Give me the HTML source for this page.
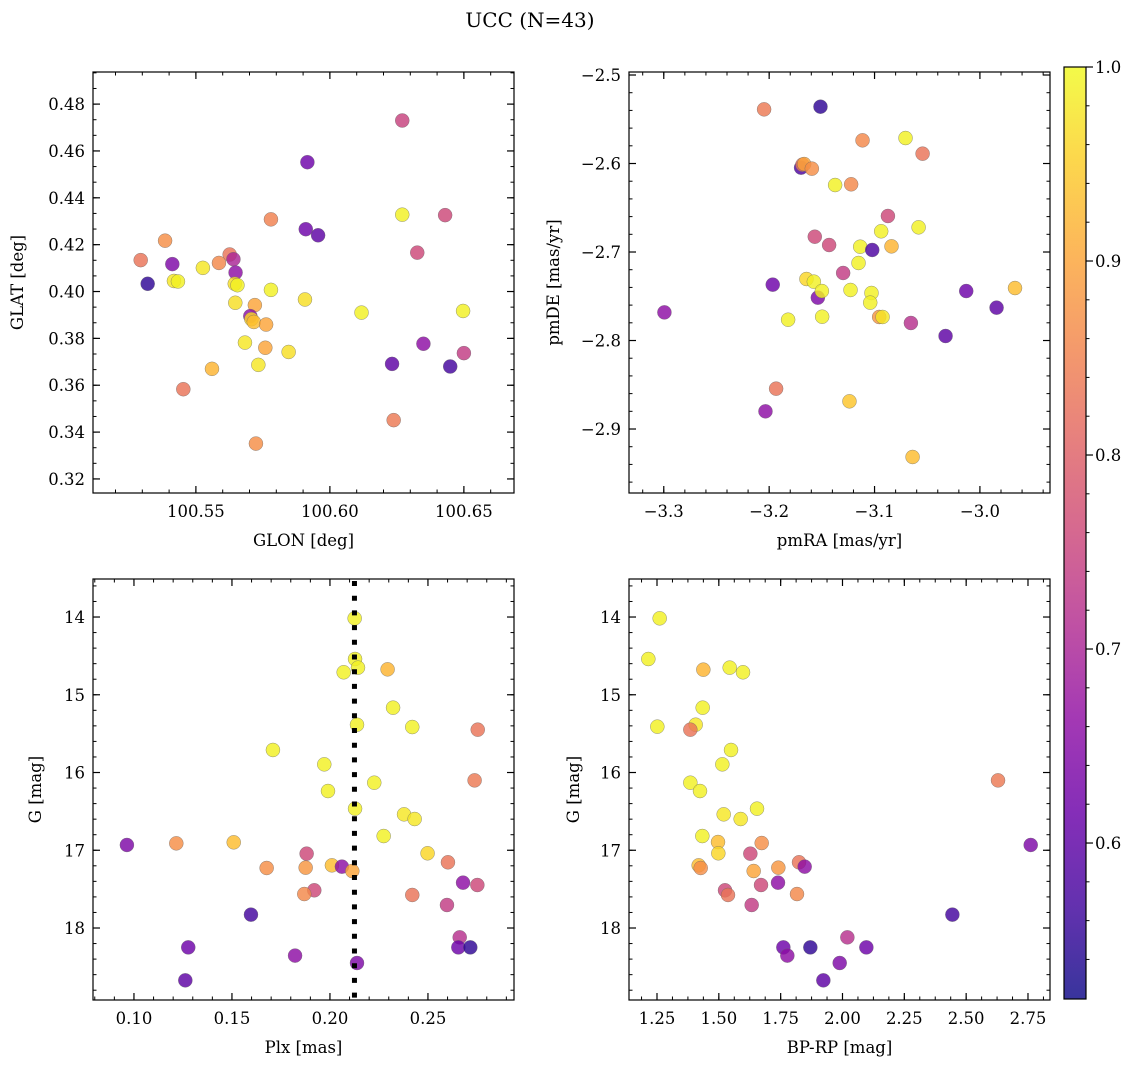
<!DOCTYPE html>
<html><head><meta charset="utf-8"><style>
html,body{margin:0;padding:0;background:#fff;}
svg{display:block;}
text{font-family:"DejaVu Serif","Liberation Serif",serif;fill:#000;}
</style></head><body>
<svg id="fig" width="1136" height="1067" viewBox="0 0 1136 1067" xmlns="http://www.w3.org/2000/svg">
<text x="530" y="27" font-size="20" text-anchor="middle">UCC (N=43)</text>
</svg>
<script>
// ---- Panel 1: GLON vs GLAT ----
const glon1 = [100.627,100.5916,100.627,100.643,100.578,100.591,100.5956,100.5385,100.6326,100.5294,100.5626,100.564,100.5412,100.5586,100.5526,100.5648,100.532,100.5418,100.5433,100.5645,100.5655,100.578,100.5647,100.5907,100.572,100.6118,100.6497,100.5703,100.5707,100.5716,100.5762,100.5683,100.5759,100.5846,100.6349,100.65,100.6232,100.6449,100.5733,100.556,100.5453,100.6238,100.5724];
const glat1 = [0.473,0.4552,0.4328,0.4326,0.4308,0.4266,0.424,0.4217,0.4166,0.4134,0.4158,0.4138,0.4117,0.4122,0.4101,0.4081,0.4033,0.4045,0.4043,0.4033,0.4027,0.4007,0.3952,0.3966,0.3942,0.391,0.3917,0.3895,0.3882,0.387,0.3859,0.3782,0.376,0.3742,0.3777,0.3737,0.3691,0.368,0.3687,0.367,0.3583,0.3451,0.3351];
const prob1 = [0.75,0.62,0.99,0.76,0.85,0.62,0.6,0.87,0.76,0.83,0.83,0.7,0.64,0.86,0.98,0.66,0.55,0.98,0.99,0.97,0.99,0.99,0.97,0.97,0.9,0.99,0.99,0.66,0.96,0.93,0.9,0.98,0.9,0.97,0.66,0.74,0.6,0.57,0.98,0.92,0.83,0.84,0.87];
// ---- Panel 2: pmRA vs pmDE ----
const pmra2 = [-3.2048,-3.1513,-3.1114,-3.0706,-3.0544,-3.1697,-3.1684,-3.1668,-3.1595,-3.1374,-3.1222,-3.0873,-3.0582,-3.0937,-3.1567,-3.1431,-3.1136,-3.1022,-3.0839,-3.1152,-3.1298,-3.1966,-3.1646,-3.1576,-3.1538,-3.15,-3.1228,-3.1029,-3.1041,-3.013,-2.9667,-2.9842,-3.2994,-3.182,-3.1497,-3.0956,-3.0924,-3.0655,-3.0326,-3.1934,-3.2035,-3.1238,-3.0639];
const pmde2 = [-2.5388,-2.5358,-2.5738,-2.5712,-2.5889,-2.6047,-2.6013,-2.6006,-2.6058,-2.6243,-2.6235,-2.6593,-2.6721,-2.6766,-2.6827,-2.6921,-2.694,-2.6977,-2.6936,-2.7124,-2.7237,-2.7369,-2.7305,-2.7335,-2.7516,-2.7441,-2.7429,-2.7463,-2.7572,-2.7441,-2.7407,-2.7629,-2.7682,-2.7765,-2.7731,-2.7734,-2.7734,-2.7802,-2.7949,-2.8544,-2.88,-2.8687,-2.9316];
const prob2 = [0.84,0.55,0.86,0.99,0.83,0.58,0.83,0.9,0.87,0.99,0.86,0.76,0.99,0.99,0.76,0.76,0.99,0.58,0.92,0.99,0.74,0.62,0.96,0.99,0.64,0.99,0.99,0.99,0.99,0.62,0.93,0.6,0.66,0.99,0.99,0.88,0.98,0.72,0.6,0.83,0.66,0.94,0.93];
// ---- Panel 3: Plx vs G ----
const plx3 = [0.2126,0.2128,0.2143,0.207,0.2294,0.2322,0.2138,0.242,0.2754,0.1709,0.1971,0.2738,0.2226,0.199,0.2128,0.2378,0.2432,0.2274,0.0964,0.1216,0.1509,0.2498,0.1881,0.2602,0.1677,0.1876,0.201,0.2061,0.2114,0.2679,0.2752,0.192,0.1869,0.242,0.2597,0.1597,0.2662,0.1277,0.2655,0.2716,0.1822,0.2138,0.1262];
const gmag3 = [14.017,14.54,14.651,14.711,14.673,15.166,15.385,15.415,15.449,15.71,15.895,16.101,16.131,16.238,16.465,16.538,16.598,16.817,16.932,16.911,16.898,17.039,17.044,17.155,17.228,17.224,17.194,17.211,17.267,17.417,17.447,17.515,17.563,17.575,17.704,17.828,18.12,18.249,18.249,18.249,18.355,18.45,18.673];
const prob3 = [0.99,0.99,0.99,0.99,0.92,0.99,0.99,0.99,0.83,0.99,0.99,0.84,0.99,0.99,0.99,0.98,0.98,0.99,0.64,0.87,0.93,0.96,0.76,0.83,0.87,0.88,0.93,0.66,0.9,0.66,0.76,0.76,0.86,0.83,0.74,0.57,0.72,0.62,0.62,0.55,0.66,0.64,0.6];
const plxLine = [0.2125];
// ---- Panel 4: BP-RP vs G ----
const bprp4 = [1.2608,1.215,1.4374,1.5439,1.5978,1.4347,1.2514,1.4064,1.3848,1.5493,1.5142,2.6289,1.3848,1.4239,1.6544,1.5196,1.5883,1.4333,2.761,1.4967,1.6733,1.498,1.6274,1.8242,1.8471,1.4185,1.4266,1.7406,1.6409,1.7393,1.6706,1.525,1.5371,1.8161,1.6328,2.4443,2.0197,1.7609,1.87,2.0965,1.9887,1.777,1.9226];
const gmag4 = [14.017,14.54,14.677,14.651,14.711,15.166,15.41,15.385,15.449,15.71,15.895,16.101,16.131,16.238,16.465,16.538,16.598,16.817,16.932,16.894,16.907,17.039,17.044,17.155,17.211,17.194,17.228,17.224,17.267,17.417,17.447,17.515,17.575,17.563,17.704,17.828,18.12,18.249,18.249,18.249,18.45,18.355,18.673];
const prob4 = [0.99,0.99,0.92,0.99,0.99,0.99,0.99,0.98,0.83,0.99,0.99,0.84,0.99,0.99,0.99,0.98,0.98,0.99,0.64,0.93,0.87,0.96,0.76,0.83,0.66,0.93,0.87,0.88,0.9,0.66,0.76,0.76,0.83,0.86,0.74,0.57,0.72,0.62,0.55,0.62,0.64,0.66,0.6];
// ---- tick labels ----
const ticks1x = [100.55,100.60,100.65], ticks1y = [0.32,0.34,0.36,0.38,0.40,0.42,0.44,0.46,0.48];
const ticks2x = [-3.3,-3.2,-3.1,-3.0], ticks2y = [-2.9,-2.8,-2.7,-2.6,-2.5];
const ticks3x = [0.10,0.15,0.20,0.25], ticksGy = [14,15,16,17,18];
const ticks4x = [1.25,1.50,1.75,2.00,2.25,2.50,2.75];
const cbarTicks = [0.6,0.7,0.8,0.9,1.0];
const cmin = 0.5196, cmax = 1.0;

const NS = "http://www.w3.org/2000/svg";
const svg = document.getElementById('fig');
const FS = 16.5;
function mk(tag, attrs, parent){ const e=document.createElementNS(NS,tag); for(const k in attrs) e.setAttribute(k,attrs[k]); (parent||svg).appendChild(e); return e; }
const plasma = [[13,8,135],[65,4,157],[106,0,168],[143,13,164],[177,42,144],[204,71,120],[225,100,98],[242,132,75],[252,166,54],[252,206,37],[240,249,33]];
function cmap(v){ let t=(v-cmin)/(cmax-cmin); t=Math.max(0,Math.min(1,t)); const f=t*10; const i=Math.min(9,Math.floor(f)); const r=f-i; const a=plasma[i], b=plasma[i+1]; return 'rgb('+a.map((c,j)=>Math.round(c+(b[j]-c)*r)).join(',')+')'; }

function panel(name, box, xr, yr, xt, yt, xMinor, yMinor, xfmt, yfmt, xlab, ylab, xs, ys, cs, invertY){
  const [L,T,R,B]=box;
  const g=mk('g',{});
  
  
  const sx=v=>L+(v-xr[0])/(xr[1]-xr[0])*(R-L);
  const sy=invertY? v=>T+(v-yr[0])/(yr[1]-yr[0])*(B-T) : v=>B-(v-yr[0])/(yr[1]-yr[0])*(B-T);
  for(let i=0;i<xs.length;i++){
    const c=mk('circle',{cx:sx(xs[i]),cy:sy(ys[i]),r:7,fill:cmap(cs[i]),'fill-opacity':0.82,stroke:'#666','stroke-width':0.5,'stroke-opacity':0.7},g);
    
    
  }
  const step=xt[1]-xt[0], ms=step/xMinor;
  for(let v=xt[0]-step; v<=xt[xt.length-1]+step+1e-9; v+=ms){ const x=sx(v); if(x<L-0.1||x>R+0.1) continue;
    mk('line',{x1:x,x2:x,y1:B,y2:B-3.5,stroke:'#000','stroke-width':1},g); mk('line',{x1:x,x2:x,y1:T,y2:T+3.5,stroke:'#000','stroke-width':1},g); }
  const ystep=yt[1]-yt[0], yms=ystep/yMinor;
  for(let v=yt[0]-ystep; v<=yt[yt.length-1]+ystep+1e-9; v+=yms){ const y=sy(v); if(y<T-0.1||y>B+0.1) continue;
    mk('line',{x1:L,x2:L+3.5,y1:y,y2:y,stroke:'#000','stroke-width':1},g); mk('line',{x1:R,x2:R-3.5,y1:y,y2:y,stroke:'#000','stroke-width':1},g); }
  xt.forEach(v=>{ const x=sx(v);
    mk('line',{x1:x,x2:x,y1:B,y2:B-7,stroke:'#000','stroke-width':1.2},g); mk('line',{x1:x,x2:x,y1:T,y2:T+7,stroke:'#000','stroke-width':1.2},g);
    const t=mk('text',{x:x,y:B+24,'font-size':FS,'text-anchor':'middle'},g); t.textContent=xfmt(v);
    
    
  });
  yt.forEach(v=>{ const y=sy(v);
    mk('line',{x1:L,x2:L+7,y1:y,y2:y,stroke:'#000','stroke-width':1.2},g); mk('line',{x1:R,x2:R-7,y1:y,y2:y,stroke:'#000','stroke-width':1.2},g);
    const t=mk('text',{x:L-8,y:y+6,'font-size':FS,'text-anchor':'end'},g); t.textContent=yfmt(v);
    
    
  });
  mk('rect',{x:L,y:T,width:R-L,height:B-T,fill:'none',stroke:'#000','stroke-width':1.2},g);
  const xl=mk('text',{x:(L+R)/2,y:B+53,'font-size':FS,'text-anchor':'middle'},g); xl.textContent=xlab;
  
  
  const yx=ylab[1];
  const yl=mk('text',{x:yx,y:(T+B)/2,'font-size':FS,'text-anchor':'middle',transform:'rotate(-90 '+yx+' '+((T+B)/2)+')'},g); yl.textContent=ylab[0];
  
  
  return {sx,sy,g};
}
const f2=v=>v.toFixed(2), f1=v=>v.toFixed(1).replace('-','\u2212'), f0=v=>v.toFixed(0);
panel('panel-glon-glat',[93,72,514,493],[100.5116,100.6687],[0.314,0.4937],ticks1x,ticks1y,5,3,f2,f2,'GLON [deg]',['GLAT [deg]',23],glon1,glat1,prob1,false);
panel('panel-pmra-pmde',[629,72,1050,493],[-3.333,-2.9335],[-2.9723,-2.4966],ticks2x,ticks2y,5,5,f1,f1,'pmRA [mas/yr]',['pmDE [mas/yr]',559],pmra2,pmde2,prob2,false);
const p3=panel('panel-plx-g',[93,579,514,1000],[0.0791,0.2939],[13.511,18.926],ticks3x,ticksGy,5,5,f2,f0,'Plx [mas]',['G [mag]',41],plx3,gmag3,prob3,true);
plxLine.forEach(v=>{ const x=p3.sx(v);
  const l=mk('line',{x1:x,x2:x,y1:581,y2:1000,stroke:'#000','stroke-width':5,'stroke-dasharray':'5 9.7'});
  
  
});
panel('panel-bprp-g',[629,579,1050,1000],[1.1368,2.839],[13.511,18.926],ticks4x,ticksGy,4,5,f2,f0,'BP-RP [mag]',['G [mag]',579],bprp4,gmag4,prob4,true);

const defs=mk('defs',{});
const lg=mk('linearGradient',{id:'cg',x1:0,y1:1,x2:0,y2:0},defs);
for(let i=0;i<=20;i++){ const v=cmin+(cmax-cmin)*i/20; mk('stop',{offset:i/20,'stop-color':cmap(v)},lg); }
const cb=mk('g',{});


const cT=67,cB=999,cL=1064,cR=1086;
mk('rect',{x:cL,y:cT,width:cR-cL,height:cB-cT,fill:'url(#cg)','fill-opacity':0.82},cb);
mk('rect',{x:cL,y:cT,width:cR-cL,height:cB-cT,fill:'none',stroke:'#000','stroke-width':1.2},cb);
const cy=v=>cB-(v-cmin)/(cmax-cmin)*(cB-cT);
for(let v=0.54; v<=1.0001; v+=0.02){ mk('line',{x1:cR,x2:cR+3.5,y1:cy(v),y2:cy(v),stroke:'#000','stroke-width':1},cb); }
cbarTicks.forEach(v=>{ const y=cy(v);
  mk('line',{x1:cR,x2:cR+7,y1:y,y2:y,stroke:'#000','stroke-width':1.2},cb);
  const t=mk('text',{x:cR+9,y:y+6,'font-size':FS},cb); t.textContent=v.toFixed(1);
  
  
});
</script>
</body></html>
